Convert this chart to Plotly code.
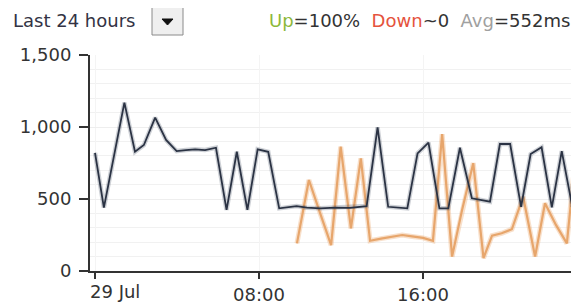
import plotly.graph_objects as go

DAY = "2013-07-29"

# Response time series (dark line) – time of day and value in ms
resp_times = ["00:00", "00:26", "01:26", "01:57", "02:23", "02:56", "03:28", "03:59",
              "04:26", "04:53", "05:22", "05:54", "06:25", "06:55", "07:26", "07:56",
              "08:27", "08:59", "09:50", "10:20", "10:59", "11:43", "12:26", "13:15",
              "13:47", "14:18", "15:14", "15:44", "16:16", "16:48", "17:14", "17:48",
              "18:23", "19:16", "19:45", "20:15", "20:47", "21:15", "21:47", "22:17",
              "22:46", "23:17"]
resp_values = [821, 440, 1169, 828, 875, 1065, 910, 833,
               840, 845, 840, 856, 424, 828, 424, 845,
               828, 435, 451, 440, 435, 440, 438, 451,
               998, 446, 435, 817, 891, 435, 435, 856,
               505, 481, 882, 882, 446, 812, 859, 442,
               833, 446]

# Second series (orange line)
alt_times = ["09:51", "10:26", "10:59", "11:31", "11:59", "12:29", "12:58", "13:25",
             "13:57", "14:29", "14:59", "15:28", "16:00", "16:29", "16:56", "17:25",
             "17:54", "18:27", "18:57", "19:22", "19:50", "20:20", "20:53", "21:28",
             "21:57", "22:29", "23:01", "23:28"]
alt_values = [192, 632, 400, 180, 863, 296, 782, 210,
              225, 238, 250, 240, 230, 210, 950, 100,
              420, 749, 90, 245, 262, 290, 516, 100,
              470, 320, 192, 840]

tick_times = ["00:00", "08:00", "16:00"]
tick_labels = ["29 Jul", "08:00", "16:00"]
y_ticks = [0, 500, 1000, 1500]

rx = [f"{DAY} {t}" for t in resp_times]
ax = [f"{DAY} {t}" for t in alt_times]
tx = [f"{DAY} {t}" for t in tick_times]

FONT = "DejaVu Sans"
FS = 18

fig = go.Figure()
# orange series
fig.add_trace(go.Scatter(x=ax, y=alt_values, mode="lines",
                         line=dict(color="rgba(236,165,105,0.35)", width=5),
                         hoverinfo="skip", showlegend=False))
fig.add_trace(go.Scatter(x=ax, y=alt_values, mode="lines",
                         line=dict(color="rgba(228,155,92,0.85)", width=2.2),
                         showlegend=False))
# dark series with soft shadow
fig.add_trace(go.Scatter(x=rx, y=resp_values, mode="lines",
                         line=dict(color="rgba(60,70,90,0.25)", width=4.5),
                         hoverinfo="skip", showlegend=False))
fig.add_trace(go.Scatter(x=rx, y=resp_values, mode="lines",
                         line=dict(color="#2b3344", width=1.8),
                         showlegend=False))

# The page body has an 8px margin, so the figure is laid out 8px up/left.
fig.update_layout(
    width=571, height=297,
    margin=dict(l=82, r=0, t=47, b=34),
    paper_bgcolor="white", plot_bgcolor="white",
    font=dict(family=FONT, size=FS, color="#333333"),
    xaxis=dict(
        type="date",
        range=["2013-07-28 23:45:20", "2013-07-29 23:36:30"],
        tickvals=tx, ticktext=["", tick_labels[1], tick_labels[2]],
        ticks="outside", ticklen=6, tickwidth=1.5, tickcolor="#333333",
        showline=True, linecolor="#333333", linewidth=2,
        showgrid=True, gridcolor="#f4f4f4", gridwidth=1,
        zeroline=False, fixedrange=True,
        tickfont=dict(family=FONT, size=FS, color="#333333"),
    ),
    yaxis=dict(
        range=[0, 1500], tickvals=y_ticks, tickformat=",",
        ticks="outside", ticklen=9, tickwidth=1.5, tickcolor="#333333",
        showline=True, linecolor="#333333", linewidth=2,
        showgrid=True, gridcolor="#eeeeee", gridwidth=1,
        minor=dict(dtick=100, showgrid=True, gridcolor="#f1f1f1", gridwidth=1),
        zeroline=False, fixedrange=True, ticklabelstandoff=4,
        tickfont=dict(family=FONT, size=FS, color="#333333"),
    ),
)

# first tick label, left-justified at the axis start
fig.add_annotation(x=tx[0], y=0, xref="x", yref="paper", text=tick_labels[0],
                   showarrow=False, xanchor="left", yanchor="middle",
                   xshift=-7, yshift=-20,
                   font=dict(family=FONT, size=FS, color="#333333"))


def px(xp):
    return (xp - 90) / 489.0


def py(yp):
    return (271 - yp) / 216.0


# header
fig.add_annotation(x=px(11), y=py(21), xref="paper", yref="paper",
                   text="Last 24 hours", showarrow=False,
                   xanchor="left", yanchor="middle",
                   font=dict(family=FONT, size=FS, color="#333344"))
fig.add_annotation(x=px(572), y=py(21), xref="paper", yref="paper",
                   text=("<span style='color:#8cb83a'>Up</span>=100%&nbsp;&nbsp;"
                         "<span style='color:#e5533d'>Down</span>~0&nbsp;&nbsp;"
                         "<span style='color:#a0a0a0'>Avg</span>=552ms"),
                   showarrow=False, xanchor="right", yanchor="middle",
                   font=dict(family=FONT, size=FS, color="#333333"))

# dropdown button
fig.add_shape(type="rect", xref="paper", yref="paper",
              x0=px(152), x1=px(183), y0=py(35), y1=py(7),
              line=dict(color="#8a8a8a", width=1), fillcolor="#efefef")
fig.add_shape(type="path", xref="paper", yref="paper",
              path=f"M {px(162)} {py(19)} L {px(173)} {py(19)} L {px(167.5)} {py(25)} Z",
              line=dict(color="#111111", width=1), fillcolor="#111111")

fig.write_html("out.html")
